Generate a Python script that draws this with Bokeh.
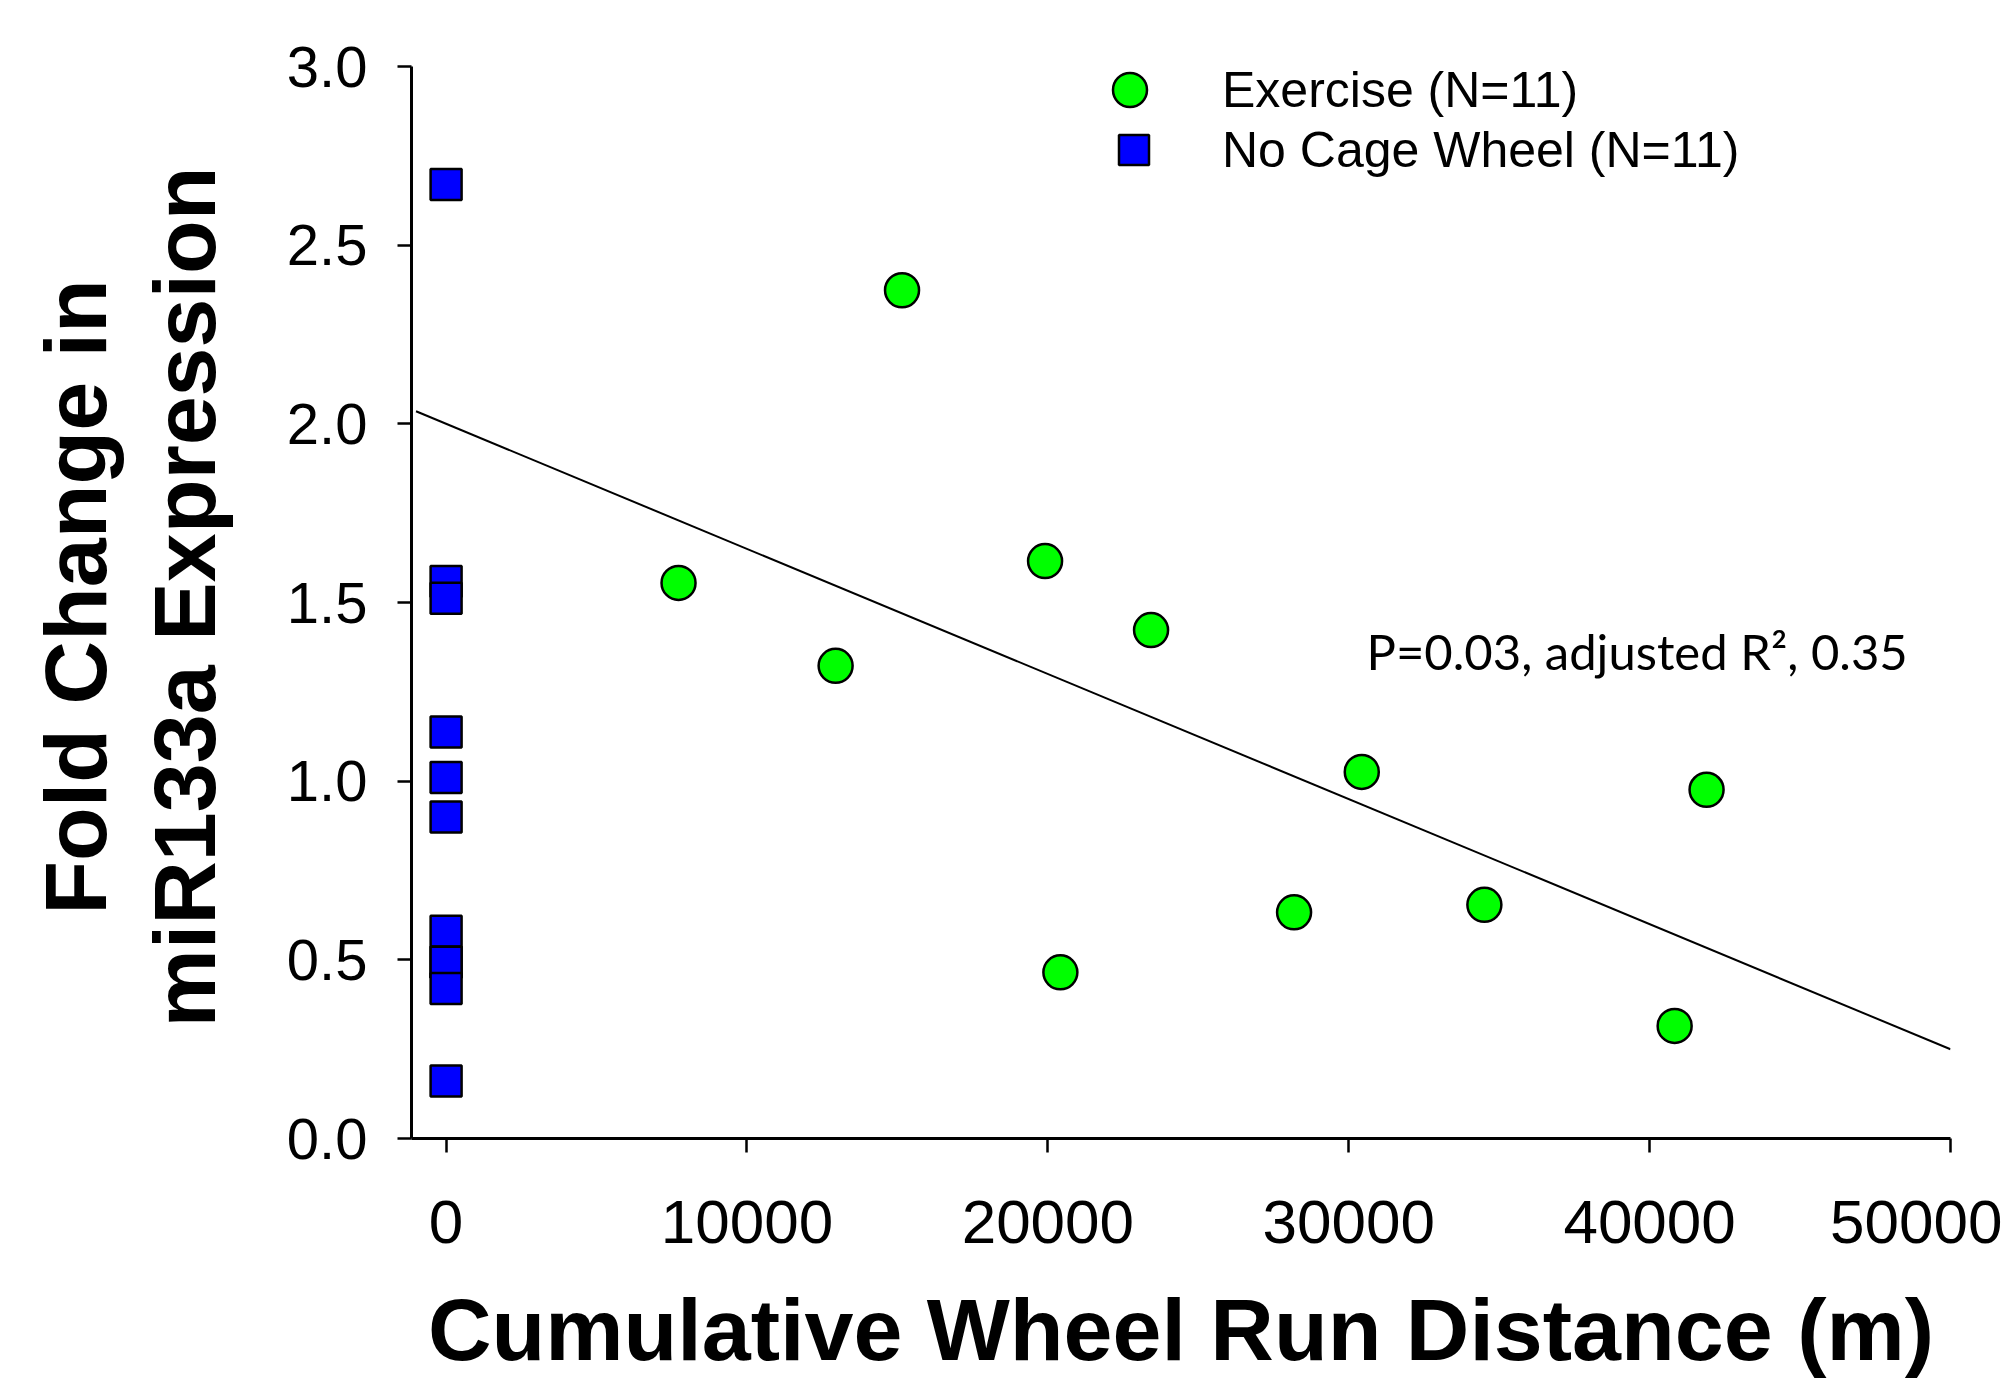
import numpy as np
from bokeh.plotting import figure
from bokeh.models import Range1d, Label, Legend, LegendItem, FixedTicker, NumeralTickFormatter
from bokeh.embed import file_html
from bokeh.resources import INLINE

# ---- data ----
exercise_distance = [7725, 12946, 15153, 19907, 20416, 23430, 28183, 30433, 34508, 40832, 41893]
exercise_fold = [1.555, 1.323, 2.374, 1.616, 0.465, 1.423, 0.633, 1.026, 0.654, 0.315, 0.976]
nowheel_distance = [0, 0, 0, 0, 0, 0, 0, 0, 0, 0, 0]
nowheel_fold = [2.67, 1.559, 1.512, 1.138, 1.010, 0.900, 0.580, 0.493, 0.493, 0.420, 0.161]
x_ticks = [0, 10000, 20000, 30000, 40000, 50000]
y_ticks = [0.0, 0.5, 1.0, 1.5, 2.0, 2.5, 3.0]
fit_span = [-1000, 50000]
legend_labels = ["Exercise (N=11)", "No Cage Wheel (N=11)"]
stat_text = "P=0.03, adjusted R\u00b2, 0.35"
x_title = "Cumulative Wheel Run Distance (m)"
y_title = "Fold Change in\nmiR133a Expression"

# regression of exercise group
slope, intercept = np.polyfit(exercise_distance, exercise_fold, 1)
fit_y = [intercept + slope * v for v in fit_span]

p = figure(width=2002, height=1381,
           x_range=Range1d(-1150, 50000), y_range=Range1d(0, 3.031),
           output_backend="svg", toolbar_location=None,
           min_border_left=411, min_border_right=52,
           min_border_top=55, min_border_bottom=243)
p.grid.visible = False
p.outline_line_color = None
p.background_fill_color = "white"
p.border_fill_color = "white"

p.line(fit_span, fit_y, line_color="black", line_width=2)

r_no = p.scatter(nowheel_distance, nowheel_fold, marker="square", size=31,
                 fill_color="#0000FF", line_color="black", line_width=2.5)
r_ex = p.scatter(exercise_distance, exercise_fold, marker="circle", size=34,
                 fill_color="#00FF00", line_color="black", line_width=2.5)

# axes
for ax in (p.xaxis[0], p.yaxis[0]):
    ax.axis_line_width = 3
    ax.axis_line_color = "black"
    ax.major_tick_line_width = 2.5
    ax.major_tick_line_color = "black"
    ax.major_tick_in = 0
    ax.major_tick_out = 14
    ax.minor_tick_line_color = None
    ax.major_label_text_font = "Liberation Sans"
    ax.major_label_text_color = "black"
    ax.axis_label_text_font = "Liberation Sans"
    ax.axis_label_text_font_style = "bold"
    ax.axis_label_text_color = "black"
    ax.axis_label_text_font_size = "88px"

p.xaxis[0].ticker = FixedTicker(ticks=x_ticks)
p.xaxis[0].major_label_text_font_size = "62px"
p.xaxis[0].major_label_standoff = 48
p.xaxis[0].axis_label = x_title
p.xaxis[0].axis_label_standoff = 34

p.yaxis[0].bounds = (0, 3.0)
p.yaxis[0].ticker = FixedTicker(ticks=y_ticks)
p.yaxis[0].formatter = NumeralTickFormatter(format="0.0")
p.yaxis[0].major_label_text_font_size = "58px"
p.yaxis[0].major_label_standoff = 30
p.yaxis[0].axis_label = y_title
p.yaxis[0].axis_label_text_line_height = 1.1
p.yaxis[0].axis_label_standoff = 50

# legends (one per entry so the glyph boxes can overlap)
common = dict(border_line_color=None, background_fill_alpha=0, padding=0, margin=0,
              spacing=0, label_text_font="Liberation Sans", label_text_font_size="50px",
              label_text_color="black")
leg1 = Legend(items=[LegendItem(label=legend_labels[0], renderers=[r_ex])],
              location=(676, 1006), glyph_width=85, glyph_height=85,
              label_standoff=50, label_height=85, **common)
leg2 = Legend(items=[LegendItem(label=legend_labels[1], renderers=[r_no])],
              location=(685, 951), glyph_width=75, glyph_height=75,
              label_standoff=51, label_height=75, **common)
p.add_layout(leg1)
p.add_layout(leg2)

p.add_layout(Label(x=30590, y=1.365, text=stat_text, text_font="Lato",
                   text_font_size="49px", text_color="black",
                   text_baseline="alphabetic", text_align="left"))

open("out.html", "w").write(file_html(p, INLINE))
